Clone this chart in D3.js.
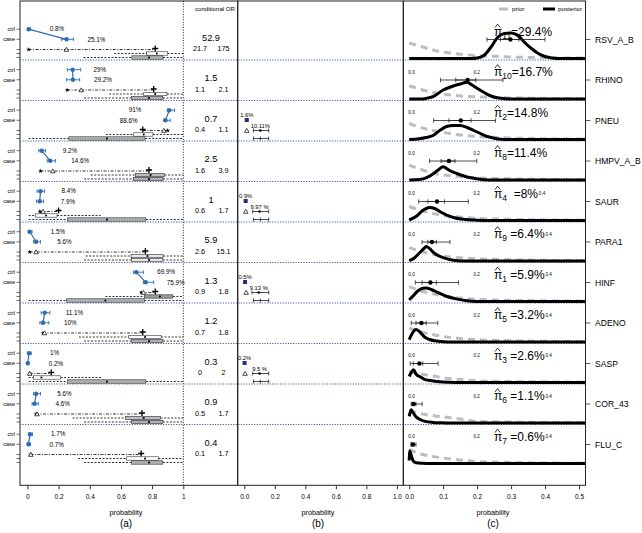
<!DOCTYPE html>
<html><head><meta charset="utf-8">
<script src="https://cdn.jsdelivr.net/npm/d3@7"></script>
<style>
body{margin:0;background:#fff}
svg{display:block}
text{font-family:"Liberation Sans",Arial,Helvetica,sans-serif;fill:#000}
</style></head>
<body><svg id="c" width="642" height="533"></svg>
<script>
// ---------------- data ----------------
const pathogens = ["RSV_A_B","RHINO","PNEU","HMPV_A_B","SAUR","PARA1","HINF","ADENO","SASP","COR_43","FLU_C"];
// panel (a): observed positive rates
const ctrlRate = [0.008,0.29,0.91,0.092,0.084,0.015,0.699,0.111,0.01,0.056,0.017];
const ctrlLo   = [0.002,0.256,0.897,0.073,0.062,0.005,0.68,0.088,0.003,0.04,0.007];
const ctrlHi   = [0.02,0.342,0.944,0.116,0.11,0.03,0.744,0.144,0.025,0.084,0.033];
const caseRate = [0.251,0.292,0.886,0.146,0.079,0.056,0.759,0.10,0.002,0.046,0.007];
const caseLo   = [0.219,0.25,0.875,0.127,0.058,0.04,0.744,0.08,0.0,0.03,0.001];
const caseHi   = [0.295,0.335,0.916,0.18,0.104,0.084,0.81,0.137,0.01,0.07,0.02];
const ctrlLab  = ["0.8%","29%","91%","9.2%","8.4%","1.5%","69.9%","11.1%","1%","5.6%","1.7%"];
const caseLab  = ["25.1%","29.2%","88.6%","14.6%","7.9%","5.6%","75.9%","10%","0.2%","4.6%","0.7%"];
// model fitted: ctrl (star), case (triangle), TPR (plus)
const fitCtrl  = [0.008,0.255,0.90,0.084,0.08,0.015,0.73,0.10,0.015,0.055,0.02];
const fitCase  = [0.25,0.345,0.875,0.163,0.10,0.056,0.745,0.11,0.015,0.062,0.022];
const fitTPR   = [0.82,0.81,0.74,0.78,0.2,0.757,0.82,0.74,0.153,0.735,0.73];
// TPR posterior (upper box) and prior (lower box): [whiskLo, q1, median, q3, whiskHi]
const tprPostBox = [[0.557,0.765,0.83,0.90,1],[0.525,0.746,0.82,0.895,1],[0.503,0.682,0.746,0.805,1],
  [0.406,0.692,0.79,0.88,1],[0.008,0.05,0.12,0.19,0.47],[0.374,0.665,0.77,0.87,1],[0.5,0.75,0.85,0.933,1],
  [0.33,0.65,0.755,0.858,1],[0.008,0.04,0.09,0.213,0.48],[0.29,0.628,0.746,0.854,1],[0.325,0.637,0.755,0.84,1]];
const tprPriorBox = [[0.36,0.67,0.78,0.87,1],[0.363,0.669,0.78,0.869,1],[0.008,0.266,0.51,0.755,1],
  [0.363,0.68,0.78,0.87,1],[0.008,0.256,0.51,0.76,1],[0.363,0.669,0.78,0.869,1],[0.008,0.25,0.5,0.75,1],
  [0.363,0.665,0.78,0.87,1],[0.008,0.256,0.51,0.76,1],[0.363,0.669,0.78,0.869,1],[0.363,0.669,0.78,0.869,1]];
const postFill  = ["#ffffff","#ffffff","#ffffff","#bdbdbd","#ffffff","#e8e8e8","#9a9a9a","#ffffff","#ffffff","#bdbdbd","#ffffff"];
const priorFill = ["#b0b0b0","#b0b0b0","#b0b0b0","#b0b0b0","#b0b0b0","#e8e8e8","#b0b0b0","#b0b0b0","#b0b0b0","#b0b0b0","#b0b0b0"];
// conditional OR
const orEst = ["52.9","1.5","0.7","2.5","1","5.9","1.3","1.2","0.3","0.9","0.4"];
const orLo  = ["21.7","1.1","0.4","1.6","0.6","2.6","0.9","0.7","0","0.5","0.1"];
const orHi  = ["175","2.1","1.1","3.9","1.7","15.1","1.8","1.8","2","1.7","1.7"];
// panel (b): silver-standard rows
const ssRow    = [2,4,6,8];
const ssObs    = [0.016,0.009,0.005,0.002];
const ssObsLab = ["1.6%","0.9%","0.5%","0.2%"];
const ssFit    = [0.016,0.01,0.012,0.005];
const ssTPR    = [0.105,0.1,0.095,0.1];
const ssTPRLo  = [0.06,0.055,0.05,0.055];
const ssTPRHi  = [0.16,0.16,0.16,0.16];
const ssTPRLab = ["10.11%","9.97 %","9.13 %","9.5 %"];
const ssPrior  = [0.06,0.105,0.16];
// panel (c): etiology fractions
const piIdx   = ["11","10","2","8","4","9","1","5","3","6","7"];
const piText  = ["=29.4%","=16.7%","=14.8%","=11.4%","  =8%"," =6.4%"," =5.9%"," =3.2%"," =2.6%"," =1.1%"," =0.6%"];
const piMean  = [0.298,0.172,0.152,0.117,0.082,0.067,0.0625,0.036,0.03,0.013,0.011];
const piLo95  = [0.229,0.092,0.072,0.06,0.028,0.038,0.018,0.006,0.003,0.006,0.005];
const piHi95  = [0.40,0.276,0.254,0.199,0.174,0.12,0.145,0.084,0.085,0.038,0.02];
const piLo50  = [0.269,0.137,0.117,0.094,0.055,0.055,0.038,0.02,0.012,0.009,0.007];
const piHi50  = [0.323,0.196,0.182,0.135,0.104,0.08,0.08,0.05,0.04,0.02,0.014];
const postDens = [
 [[0,0],[0.18,0],[0.2,0.5],[0.22,3],[0.24,11],[0.26,21],[0.28,25],[0.3,25.5],[0.32,23],[0.34,16],[0.36,10],[0.38,5],[0.4,2],[0.42,0.6],[0.45,0],[0.52,0]],
 [[0,0],[0.03,0],[0.05,0.6],[0.07,2.3],[0.1,9],[0.13,13],[0.15,15],[0.17,16.7],[0.185,14],[0.2,10.7],[0.23,4.7],[0.25,2],[0.27,0.7],[0.3,0],[0.52,0]],
 [[0,0],[0.03,0.8],[0.05,2],[0.07,4],[0.09,9],[0.11,13],[0.13,14],[0.15,14],[0.17,12],[0.19,9],[0.21,6],[0.23,3],[0.25,1.3],[0.27,0.3],[0.3,0],[0.52,0]],
 [[0,0],[0.03,0.5],[0.053,2.7],[0.07,6],[0.085,10],[0.1,13.3],[0.11,11.5],[0.122,9],[0.14,6.5],[0.152,5],[0.17,3],[0.19,1.7],[0.22,0.3],[0.25,0],[0.52,0]],
 [[0,0.5],[0.02,4],[0.04,10],[0.06,13],[0.075,12],[0.09,9],[0.11,5.5],[0.13,3],[0.16,1.2],[0.2,0.3],[0.24,0],[0.52,0]],
 [[0,0.3],[0.015,3],[0.03,8],[0.045,13],[0.05,14.4],[0.06,12.5],[0.072,8.4],[0.085,5.5],[0.1,3.4],[0.13,0.7],[0.16,0.1],[0.2,0],[0.52,0]],
 [[0,1.7],[0.01,5],[0.025,10.5],[0.04,13.2],[0.05,13.4],[0.065,12],[0.082,9.4],[0.1,6.6],[0.112,5],[0.142,2.4],[0.17,0.7],[0.2,0.1],[0.24,0],[0.52,0]],
 [[0,2.4],[0.008,8],[0.02,12.4],[0.03,10.5],[0.045,5],[0.06,2.5],[0.075,1.2],[0.1,0.3],[0.13,0],[0.52,0]],
 [[0,6],[0.006,10],[0.013,12.7],[0.02,8.5],[0.032,5.7],[0.045,3.2],[0.062,2],[0.09,0.7],[0.12,0.2],[0.15,0],[0.52,0]],
 [[0,6.6],[0.006,13.3],[0.012,10],[0.02,6.3],[0.035,3],[0.047,1.6],[0.07,0.6],[0.09,0.3],[0.12,0],[0.52,0]],
 [[0,3],[0.002,12.6],[0.006,8],[0.012,2.5],[0.02,0.8],[0.04,0.2],[0.06,0],[0.52,0]]
];
const priorDens = [
 [[0,15.4],[0.035,12],[0.07,8.5],[0.12,5.5],[0.17,3.7],[0.25,2.2],[0.31,1.4],[0.4,0.8],[0.52,0.4]],
 [[0,13.3],[0.035,9.5],[0.07,6.5],[0.12,4],[0.17,2.6],[0.25,1.5],[0.35,0.8],[0.52,0.3]],
 [[0,16],[0.03,12.5],[0.07,9],[0.1,7],[0.15,4.5],[0.2,3],[0.3,1.5],[0.4,0.8],[0.52,0.4]],
 [[0,15],[0.035,10.5],[0.07,7],[0.12,4.3],[0.17,2.8],[0.25,1.6],[0.35,0.8],[0.52,0.3]],
 [[0,14],[0.035,10],[0.07,7],[0.12,4.3],[0.17,2.8],[0.25,1.6],[0.35,0.8],[0.52,0.3]],
 [[0,13.4],[0.03,10],[0.06,7.5],[0.1,5],[0.15,3.2],[0.2,2.2],[0.3,1.2],[0.4,0.7],[0.52,0.3]],
 [[0,15],[0.03,11],[0.06,8.5],[0.09,6],[0.15,3.4],[0.2,2.2],[0.3,1.2],[0.4,0.7],[0.52,0.3]],
 [[0,14],[0.03,10.5],[0.06,8],[0.1,5.5],[0.15,3.5],[0.2,2.3],[0.3,1.2],[0.4,0.7],[0.52,0.3]],
 [[0,11],[0.03,9],[0.06,7],[0.1,4.8],[0.15,3],[0.2,1.7],[0.3,0.9],[0.4,0.5],[0.52,0.3]],
 [[0,12],[0.03,9.5],[0.09,6.6],[0.15,4],[0.2,1.6],[0.3,0.9],[0.4,0.5],[0.52,0.3]],
 [[0,14],[0.03,10],[0.09,6],[0.15,3.5],[0.2,2],[0.3,1],[0.4,0.5],[0.52,0.3]]
];
const ticksA = [0,0.2,0.4,0.6,0.8,1];
const ticksB = [0,0.2,0.4,0.6,0.8,1];
const ticksC = [0,0.1,0.2,0.3,0.4,0.5];
const innerTicksC = [0,0.2,0.4];
const panelTags = ["(a)","(b)","(c)"];

// ---------------- layout ----------------
const svg = d3.select("#c");
const xA = d3.scaleLinear().domain([0,1]).range([27.4,183.3]);
const xB = d3.scaleLinear().domain([0,1]).range([244.3,396.9]);
const xC = d3.scaleLinear().domain([0,0.5]).range([409.2,579]);
const xCin = d3.scaleLinear().domain([0,0.4]).range([411.5,541.7]);
const yRow = d3.scaleLinear().domain([0,11]).range([19.5,465]);
const P = {aL:20, aR:237.7, bR:403.3, cR:585.5, top:1, bot:485.3};
const BLUE = "#2e6db4";

// panel boxes
[[P.aL,P.aR],[P.aR,P.bR],[P.bR,P.cR]].forEach(([l,r])=>{
  svg.append("rect").attr("x",l).attr("y",P.top).attr("width",r-l).attr("height",P.bot-P.top)
    .attr("fill","none").attr("stroke","#222").attr("stroke-width",1);
});
// dotted vertical at probability 1
svg.append("line").attr("x1",xA(1)).attr("x2",xA(1)).attr("y1",P.top).attr("y2",P.bot)
  .attr("stroke","#000").attr("stroke-dasharray","1,1.6").attr("stroke-width",0.9);
// row separators
for(let i=1;i<11;i++){
  svg.append("line").attr("x1",P.aL).attr("x2",P.cR).attr("y1",yRow(i)).attr("y2",yRow(i))
    .attr("stroke","#3f5fae").attr("stroke-dasharray","1.2,1.4").attr("stroke-width",1);
}

// bottom axes
function bottomAxis(scale, vals, fmt, tag, labelX){
  const g = svg.append("g").attr("transform",`translate(0,${P.bot})`)
    .call(d3.axisBottom(scale).tickValues(vals).tickFormat(fmt).tickSize(4).tickPadding(5));
  g.select(".domain").remove();
  g.selectAll("line").attr("stroke","#333");
  g.selectAll("text").attr("font-size",6.5).attr("fill","#222");
  svg.append("text").attr("x",labelX).attr("y",515).attr("text-anchor","middle").attr("font-size",7.2).text("probability");
  svg.append("text").attr("x",labelX).attr("y",527).attr("text-anchor","middle").attr("font-size",10).text(tag);
}
bottomAxis(xA, ticksA, d=> d===0?"0":(d===1?"1":d3.format(".1f")(d)), panelTags[0], 126);
bottomAxis(xB, ticksB, d3.format(".1f"), panelTags[1], 318);
bottomAxis(xC, ticksC, d3.format(".1f"), panelTags[2], 493);

// conditional OR header
svg.append("text").attr("x",215).attr("y",10.5).attr("text-anchor","middle").attr("font-size",6.1).text("conditional OR");

// legend (c)
svg.append("line").attr("x1",499).attr("x2",508).attr("y1",9).attr("y2",9).attr("stroke","#bbb").attr("stroke-width",3);
svg.append("text").attr("x",512).attr("y",11).attr("font-size",6.2).text("prior");
svg.append("line").attr("x1",543).attr("x2",555).attr("y1",9).attr("y2",9).attr("stroke","#000").attr("stroke-width",3);
svg.append("text").attr("x",558).attr("y",11).attr("font-size",6.2).text("posterior");

svg.append("clipPath").attr("id","clipC").append("rect")
  .attr("x",P.bR+0.5).attr("y",P.top).attr("width",P.cR-P.bR-1).attr("height",P.bot-P.top);

function hbox(x, y, b, fill){
  svg.append("line").attr("x1",x(b[0])).attr("x2",x(b[1])).attr("y1",y).attr("y2",y)
    .attr("stroke","#000").attr("stroke-width",0.8).attr("stroke-dasharray","2,1.5");
  svg.append("line").attr("x1",x(b[3])).attr("x2",x(b[4])).attr("y1",y).attr("y2",y)
    .attr("stroke","#000").attr("stroke-width",0.8).attr("stroke-dasharray","2,1.5");
  svg.append("rect").attr("x",x(b[1])).attr("y",y-1.7).attr("width",x(b[3])-x(b[1])).attr("height",3.4)
    .attr("fill",fill).attr("stroke","#333").attr("stroke-width",0.6);
  svg.append("rect").attr("x",x(b[2])-0.9).attr("y",y-0.9).attr("width",1.8).attr("height",1.8).attr("fill","#000");
}
function errbar(x1,x2,y,cap,color,w){
  svg.append("line").attr("x1",x1).attr("x2",x2).attr("y1",y).attr("y2",y).attr("stroke",color).attr("stroke-width",w);
  [x1,x2].forEach(xx=>svg.append("line").attr("x1",xx).attr("x2",xx).attr("y1",y-cap).attr("y2",y+cap).attr("stroke",color).attr("stroke-width",w));
}
const tri = d3.symbol().type(d3.symbolTriangle).size(9);
const star = d3.symbol().type(d3.symbolStar).size(7);

pathogens.forEach((name,i)=>{
  const t = yRow(i);
  const yc = t+9.7, yk = t+19.8, yd = t+30, yu = t+34, yl = t+38;
  // left axis ticks
  [yc,yk,yd,yu,yl].forEach(yy=>svg.append("line").attr("x1",16.5).attr("x2",P.aL).attr("y1",yy).attr("y2",yy).attr("stroke","#333").attr("stroke-width",0.7));
  svg.append("text").attr("x",15).attr("y",yc).attr("dy","0.35em").attr("text-anchor","end").attr("font-size",5.6).text("ctrl");
  svg.append("text").attr("x",15).attr("y",yk).attr("dy","0.35em").attr("text-anchor","end").attr("font-size",5.6).text("case");
  // ctrl/case rates
  svg.append("line").attr("x1",xA(ctrlRate[i])).attr("x2",xA(caseRate[i])).attr("y1",yc).attr("y2",yk).attr("stroke",BLUE).attr("stroke-width",1.2);
  errbar(xA(ctrlLo[i]),xA(ctrlHi[i]),yc,1.8,BLUE,0.9);
  errbar(xA(caseLo[i]),xA(caseHi[i]),yk,1.8,BLUE,0.9);
  svg.append("circle").attr("cx",xA(ctrlRate[i])).attr("cy",yc).attr("r",2.2).attr("fill",BLUE);
  svg.append("circle").attr("cx",xA(caseRate[i])).attr("cy",yk).attr("r",2.2).attr("fill",BLUE);
  [[ctrlRate[i],yc,ctrlLab[i]],[caseRate[i],yk,caseLab[i]]].forEach(([v,yy,lab])=>{
    const left = v>0.85;
    svg.append("text").attr("x", left? xA(v)-28 : xA(v)+21).attr("y",yy).attr("dy","0.35em")
      .attr("text-anchor", left?"end":"start").attr("font-size",6.3).text(lab);
  });
  // fitted dot-dash line
  const mn = Math.min(fitCtrl[i],fitCase[i],fitTPR[i]), mx = Math.max(fitCtrl[i],fitCase[i],fitTPR[i]);
  svg.append("line").attr("x1",xA(mn)).attr("x2",xA(mx)).attr("y1",yd).attr("y2",yd)
    .attr("stroke","#000").attr("stroke-width",0.8).attr("stroke-dasharray","3,1.5,1,1.5");
  svg.append("path").attr("d",star()).attr("transform",`translate(${xA(fitCtrl[i])},${yd})`).attr("fill","#000");
  svg.append("path").attr("d",tri()).attr("transform",`translate(${xA(fitCase[i])},${yd+0.5})`).attr("fill","#fff").attr("stroke","#000").attr("stroke-width",0.7);
  const px = xA(fitTPR[i]);
  svg.append("path").attr("d",`M${px-3},${yd-1}H${px+3}M${px},${yd-4}V${yd+2}`).attr("stroke","#000").attr("stroke-width",1.3);
  // boxes
  hbox(xA, yu, tprPostBox[i], postFill[i]);
  hbox(xA, yl, tprPriorBox[i], priorFill[i]);
  // conditional OR
  svg.append("text").attr("x",211).attr("y",t+18).attr("dy","0.35em").attr("text-anchor","middle").attr("font-size",9.2).text(orEst[i]);
  svg.append("text").attr("x",200).attr("y",t+29).attr("dy","0.35em").attr("text-anchor","middle").attr("font-size",7.3).text(orLo[i]);
  svg.append("text").attr("x",223.5).attr("y",t+29).attr("dy","0.35em").attr("text-anchor","middle").attr("font-size",7.3).text(orHi[i]);

  // panel (c)
  const base = t+39;
  const yD = d3.scaleLinear().domain([0,30]).range([base, base-30]);
  const line = d3.line().x(d=>xC(d[0])).y(d=>yD(d[1])).curve(d3.curveMonotoneX);
  const gc = svg.append("g").attr("clip-path","url(#clipC)");
  gc.append("path").attr("d",line(priorDens[i])).attr("fill","none").attr("stroke","#bdbdbd")
    .attr("stroke-width",3).attr("stroke-dasharray","7,5");
  gc.append("path").attr("d",line(postDens[i])).attr("fill","none").attr("stroke","#000").attr("stroke-width",3).attr("stroke-linejoin","round");
  const ye = t+20;
  errbar(xC(piLo95[i]),xC(piHi95[i]),ye,2.2,"#222",0.8);
  errbar(xC(piLo50[i]),xC(piHi50[i]),ye,2.2,"#222",0.8);
  svg.append("circle").attr("cx",xC(piMean[i])).attr("cy",ye).attr("r",2.2).attr("fill","#000");
  // pi-hat label (hat drawn as a caret stroke)
  const lx = 494, ly = t+16;
  svg.append("path").attr("d",`M${lx+1},${t+8}L${lx+3.6},${t+4.6}L${lx+6.2},${t+8}`)
    .attr("fill","none").attr("stroke","#000").attr("stroke-width",0.8);
  const tx = svg.append("text").attr("x",lx).attr("y",ly).attr("font-size",12).style("white-space","pre");
  tx.append("tspan").text("π");
  tx.append("tspan").attr("font-size",8.5).attr("dy",3).text(piIdx[i]);
  tx.append("tspan").attr("dy",-3).text(piText[i]);
  const txEnd = lx + tx.node().getComputedTextLength();
  if(i>0){
    // small in-row tick labels; 0.4 is hidden under the long labels of rows 2-4,
    // and sits just after the label in the other rows
    innerTicksC.filter(v=> v<0.3 || i>=4).forEach(v=>{
      let x = xCin(v), anchor = "middle";
      if(v>0.3 && x-4 < txEnd){ x = txEnd+0.8; anchor = "start"; }
      svg.append("text").attr("x",x).attr("y",t+12).attr("dy","0.35em")
        .attr("text-anchor",anchor).attr("font-size",4.6).attr("fill","#444").text(d3.format(".1f")(v));
    });
  }
  // right labels
  svg.append("line").attr("x1",P.cR).attr("x2",P.cR+5).attr("y1",t+20).attr("y2",t+20).attr("stroke","#333").attr("stroke-width",0.8);
  svg.append("text").attr("x",595).attr("y",t+20).attr("dy","0.35em").attr("font-size",8.6).text(name);
});

// panel (b)
ssRow.forEach((r,j)=>{
  const t = yRow(r);
  svg.append("text").attr("x",xB(ssObs[j])).attr("y",t+14.5).attr("dy","0.35em").attr("text-anchor","middle").attr("font-size",5.8).text(ssObsLab[j]);
  svg.append("rect").attr("x",xB(ssObs[j])-2).attr("y",t+19.5-2).attr("width",4).attr("height",4).attr("fill","#1f2f7a");
  svg.append("path").attr("d",tri()).attr("transform",`translate(${xB(ssFit[j])},${t+30.5})`).attr("fill","#fff").attr("stroke","#000").attr("stroke-width",0.7);
  svg.append("text").attr("x",xB(ssTPR[j])).attr("y",t+25.5).attr("dy","0.35em").attr("text-anchor","middle").attr("font-size",5.8).text(ssTPRLab[j]);
  errbar(xB(ssTPRLo[j]),xB(ssTPRHi[j]),t+30,2,"#000",0.7);
  svg.append("circle").attr("cx",xB(ssTPR[j])).attr("cy",t+30).attr("r",1.3).attr("fill","#000");
  errbar(xB(ssPrior[0]),xB(ssPrior[2]),t+38,2,"#000",0.7);
  svg.append("line").attr("x1",xB(ssPrior[1])).attr("x2",xB(ssPrior[1])).attr("y1",t+36).attr("y2",t+40).attr("stroke","#000").attr("stroke-width",0.7);
});
</script></body></html>
